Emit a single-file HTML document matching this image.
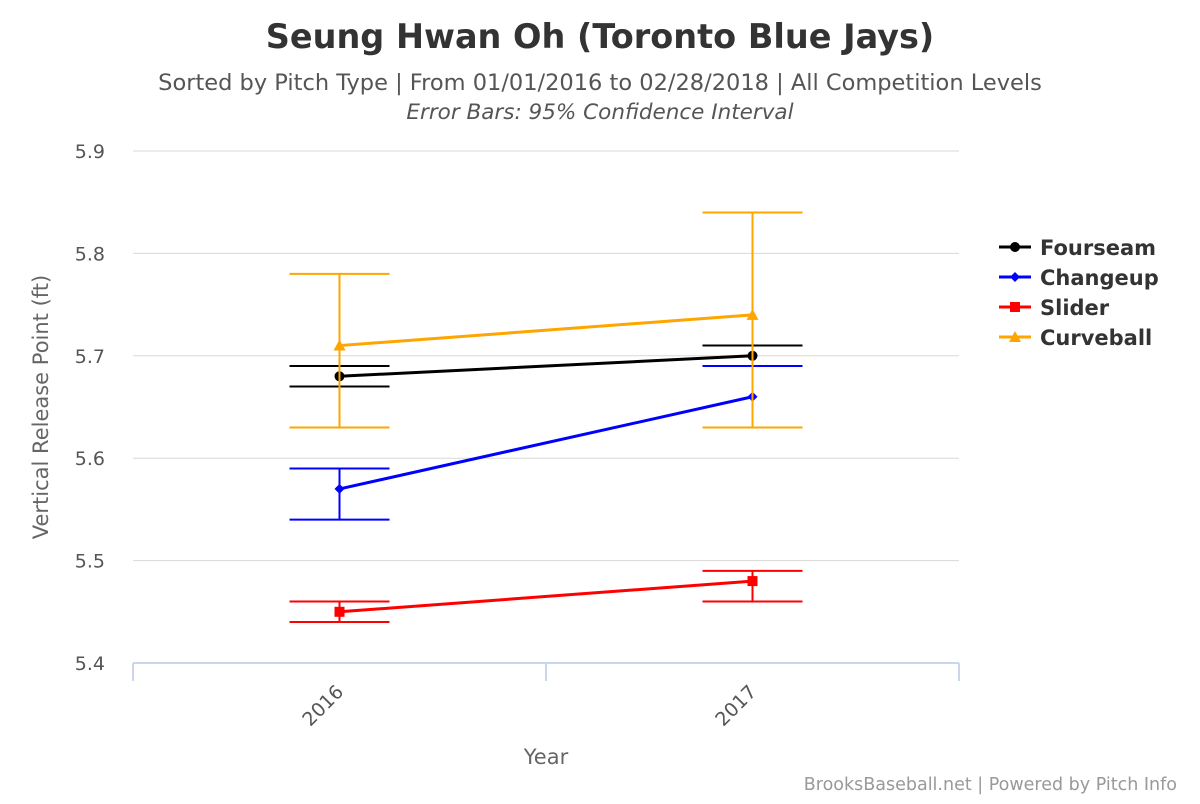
<!DOCTYPE html>
<html><head><meta charset="utf-8"><style>
body{margin:0;background:#fff;font-family:"DejaVu Sans","Liberation Sans",sans-serif;}
svg text{font-family:"DejaVu Sans","Liberation Sans",sans-serif;}
</style></head><body>
<svg id="chart" width="1200" height="800" xmlns="http://www.w3.org/2000/svg">
<rect width="1200" height="800" fill="#fff"/>
<text x="600" y="48" text-anchor="middle" font-size="33.5" font-weight="bold" fill="#333">Seung Hwan Oh (Toronto Blue Jays)</text>
<text x="600" y="90" text-anchor="middle" font-size="22.5" fill="#555">Sorted by Pitch Type | From 01/01/2016 to 02/28/2018 | All Competition Levels</text>
<text x="600" y="119" text-anchor="middle" font-size="21.5" font-style="italic" fill="#555">Error Bars: 95% Confidence Interval</text>
<g id="grid"></g>
<g id="series"></g>
<text transform="translate(48,407) rotate(-90)" text-anchor="middle" font-size="21" fill="#666">Vertical Release Point (ft)</text>
<text x="546" y="764" text-anchor="middle" font-size="21" fill="#666">Year</text>
<g id="legend"></g>
<text x="1177" y="790" text-anchor="end" font-size="17.5" fill="#999">BrooksBaseball.net | Powered by Pitch Info</text>
</svg>
<script>
const categories=["2016","2017"];
const yTicks=[5.4,5.5,5.6,5.7,5.8,5.9];
const seriesNames=["Fourseam","Changeup","Slider","Curveball"];
const seriesColors=["#000000","#0000ff","#ff0000","#ffa500"];
const fourseam=[5.68,5.70];
const fourseamLow=[5.67,5.69];
const fourseamHigh=[5.69,5.71];
const changeup=[5.57,5.66];
const changeupLow=[5.54,5.63];
const changeupHigh=[5.59,5.69];
const slider=[5.45,5.48];
const sliderLow=[5.44,5.46];
const sliderHigh=[5.46,5.49];
const curveball=[5.71,5.74];
const curveballLow=[5.63,5.63];
const curveballHigh=[5.78,5.84];
const values=[fourseam,changeup,slider,curveball];
const lows=[fourseamLow,changeupLow,sliderLow,curveballLow];
const highs=[fourseamHigh,changeupHigh,sliderHigh,curveballHigh];
const NS="http://www.w3.org/2000/svg";
const L=133,R=959,T=151,B=663,ymin=5.4,ymax=5.9;
const y=v=>B-(v-ymin)/(ymax-ymin)*(B-T);
const bw=(R-L)/categories.length;
const x=i=>L+bw*(i+0.5);
function mk(tag,attrs,parent){const e=document.createElementNS(NS,tag);for(const k in attrs)e.setAttribute(k,attrs[k]);parent.appendChild(e);return e;}
const grid=document.getElementById('grid');
yTicks.forEach(t=>{
  const l=mk('line',{x1:L,x2:R,y1:y(t),y2:y(t),stroke:t===ymin?'#ccd6eb':'#d8d8d8','stroke-width':1},grid);
  
  
  const tx=mk('text',{x:L-28,y:y(t)+7,'text-anchor':'end','font-size':19,fill:'#555'},grid);
  tx.textContent=t.toFixed(1);
  
  
});
const ax=mk('line',{x1:L,x2:R,y1:B,y2:B,stroke:'#ccd6eb','stroke-width':2},grid);


for(let i=0;i<=categories.length;i++){
  const tk=mk('line',{x1:L+bw*i,x2:L+bw*i,y1:B,y2:B+18,stroke:'#ccd6eb','stroke-width':2},grid);
  
  
}
categories.forEach((c,i)=>{
  const tx=mk('text',{x:x(i)+5,y:B+30,'text-anchor':'end','font-size':19,fill:'#555',transform:`rotate(-45 ${x(i)+5} ${B+30})`},grid);
  tx.textContent=c;
  
  
});
const sg=document.getElementById('series');
function marker(kind,cx,cy,col,parent){
  let m;
  if(kind===0)m=mk('circle',{cx,cy,r:5,fill:col},parent);
  else if(kind===1)m=mk('path',{d:`M${cx},${cy-5}L${cx+5},${cy}L${cx},${cy+5}L${cx-5},${cy}Z`,fill:col},parent);
  else if(kind===2)m=mk('rect',{x:cx-5,y:cy-5,width:10,height:10,fill:col},parent);
  else m=mk('path',{d:`M${cx},${cy-6}L${cx+6},${cy+5}L${cx-6},${cy+5}Z`,fill:col},parent);
  return m;
}
values.forEach((vals,s)=>{
  const g=mk('g',{},sg);
  
  
  vals.forEach((v,i)=>{
    const cx=x(i),lo=y(lows[s][i]),hi=y(highs[s][i]);
    const e=mk('path',{d:`M${cx},${lo}L${cx},${hi}M${cx-50},${lo}L${cx+50},${lo}M${cx-50},${hi}L${cx+50},${hi}`,stroke:seriesColors[s],'stroke-width':2,fill:'none'},g);
    
    
  });
  const ln=mk('path',{d:vals.map((v,i)=>(i?'L':'M')+x(i)+','+y(v)).join(''),stroke:seriesColors[s],'stroke-width':3,fill:'none'},g);
  
  
  vals.forEach((v,i)=>{
    const m=marker(s,x(i),y(v),seriesColors[s],g);
    
    
  });
});
const lg=document.getElementById('legend');
seriesNames.forEach((n,s)=>{
  const g=mk('g',{},lg);
  
  
  const ly=247+s*30;
  mk('line',{x1:999,x2:1031,y1:ly,y2:ly,stroke:seriesColors[s],'stroke-width':3},g);
  marker(s,1015,ly,seriesColors[s],g);
  const t=mk('text',{x:1040,y:ly+8,'font-size':21,'font-weight':'bold',fill:'#333'},g);
  t.textContent=n;
});
</script>
</body></html>
